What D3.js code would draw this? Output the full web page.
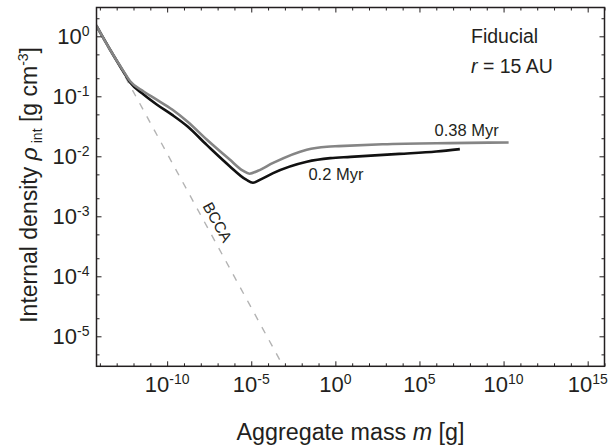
<!DOCTYPE html>
<html>
<head>
<meta charset="utf-8">
<script src="https://cdnjs.cloudflare.com/ajax/libs/d3/7.8.5/d3.min.js"></script>
<style>
  body { margin: 0; background: #fff; }
  text { font-family: "Liberation Sans", Arial, sans-serif; fill: #231f20; }
</style>
</head>
<body>
<div id="chart"></div>
<script>
// Values, stored as log10 exponents
var grayLogMass = [-14.2, -13.4, -12.6, -12.2, -11.4, -10.6, -9.7, -8.8, -7.65, -6.3, -5.5, -5.1, -4.6, -3.7, -1.7, -0.5, 0.2, 2.8, 6.8, 10.3];
var grayLogRho  = [0.17, -0.22, -0.58, -0.75, -0.92, -1.06, -1.22, -1.42, -1.72, -2.05, -2.24, -2.29, -2.24, -2.11, -1.89, -1.84, -1.83, -1.80, -1.78, -1.77];

var blackLogMass = [-14.2, -13.4, -12.6, -12.2, -11.4, -10.6, -9.7, -8.8, -7.65, -6.3, -5.3, -4.9, -4.4, -3.7, -1.7, -0.3, 0.9, 3.8, 6.0, 7.4];
var blackLogRho  = [0.17, -0.22, -0.59, -0.77, -0.97, -1.14, -1.31, -1.50, -1.81, -2.16, -2.39, -2.44, -2.38, -2.28, -2.09, -2.03, -2.01, -1.96, -1.92, -1.88];

var bccaLogMass = [-14.2, -2.9];
var bccaLogRho  = [0.2, -5.6];

var xMajorExp = [-10, -5, 0, 5, 10, 15];
var yMajorExp = [0, -1, -2, -3, -4, -5];

// Configuring SVG
var svgWidth = 614;
var svgHeight = 446;

var margin = { top: 7.5, right: 9.5, bottom: 79.7, left: 96.5 };
var width = svgWidth - margin.left - margin.right;
var height = svgHeight - margin.top - margin.bottom;

var svg = d3.select("#chart")
    .append("svg")
    .attr("width", svgWidth)
    .attr("height", svgHeight);

var chartGroup = svg.append("g")
    .attr("transform", `translate(${margin.left}, ${margin.top})`);

// Scales
var xScale = d3.scaleLog()
    .domain([Math.pow(10, -14.2), Math.pow(10, 16)])
    .range([0, width]);

var yScale = d3.scaleLog()
    .domain([Math.pow(10, -5.5), Math.pow(10, 0.48)])
    .range([height, 0]);

var toPoints = (lm, lr) => lm.map((v, i) => [Math.pow(10, v), Math.pow(10, lr[i])]);

// tick values
var xMajor = xMajorExp.map(e => Math.pow(10, e));
var xMinor = d3.range(-14, 17).filter(e => e % 5 !== 0).map(e => Math.pow(10, e));
var yMajor = yMajorExp.map(e => Math.pow(10, e));
var yMinor = [];
d3.range(-6, 1).forEach(e => {
    [2, 5].forEach(k => {
        var v = k * Math.pow(10, e);
        if (v > yScale.domain()[0] && v < yScale.domain()[1]) yMinor.push(v);
    });
});

function drawAxis(axisFn, scale, values, size, transform) {
    var g = chartGroup.append("g")
        .attr("transform", transform)
        .call(axisFn(scale).tickValues(values).tickSize(size).tickFormat(""));
    g.select(".domain").remove();
    g.selectAll(".tick line").attr("stroke", "#231f20").attr("stroke-width", 1);
}

// Clip
svg.append("defs").append("clipPath").attr("id", "clip")
    .append("rect").attr("width", width).attr("height", height);

var plot = chartGroup.append("g").attr("clip-path", "url(#clip)");

var line = d3.line()
    .x(d => xScale(d[0]))
    .y(d => yScale(d[1]));

plot.append("path")
    .datum(toPoints(bccaLogMass, bccaLogRho))
    .attr("d", line)
    .attr("fill", "none")
    .attr("stroke", "#b3b3b3")
    .attr("stroke-width", 1.4)
    .attr("stroke-dasharray", "7,8");

var smooth = d3.line()
    .x(d => xScale(d[0]))
    .y(d => yScale(d[1]))
    .curve(d3.curveMonotoneX);

plot.append("path")
    .datum(toPoints(blackLogMass, blackLogRho))
    .attr("d", smooth)
    .attr("fill", "none")
    .attr("stroke", "#111")
    .attr("stroke-width", 2.6);

plot.append("path")
    .datum(toPoints(grayLogMass, grayLogRho))
    .attr("d", smooth)
    .attr("fill", "none")
    .attr("stroke", "#858585")
    .attr("stroke-width", 2.6);

// Ticks on all four sides, pointing inward
drawAxis(d3.axisBottom, xScale, xMajor, -5, `translate(0, ${height})`);
drawAxis(d3.axisBottom, xScale, xMinor, -3, `translate(0, ${height})`);
drawAxis(d3.axisTop, xScale, xMajor, -5, "translate(0, 0)");
drawAxis(d3.axisTop, xScale, xMinor, -3, "translate(0, 0)");
drawAxis(d3.axisLeft, yScale, yMajor, -5, "translate(0, 0)");
drawAxis(d3.axisLeft, yScale, yMinor, -3, "translate(0, 0)");
drawAxis(d3.axisRight, yScale, yMajor, -5, `translate(${width}, 0)`);
drawAxis(d3.axisRight, yScale, yMinor, -3, `translate(${width}, 0)`);

// Frame
chartGroup.append("rect")
    .attr("width", width)
    .attr("height", height)
    .attr("fill", "none")
    .attr("stroke", "#231f20")
    .attr("stroke-width", 1.5);

// Tick labels
var xLab = chartGroup.selectAll(".xlab")
    .data(xMajorExp)
    .enter()
    .append("text")
    .attr("class", "xlab")
    .attr("x", d => xScale(Math.pow(10, d)))
    .attr("y", height + 26)
    .attr("text-anchor", "middle")
    .attr("font-size", "22px");
xLab.append("tspan").text("10");
xLab.append("tspan").attr("dy", -8.5).attr("font-size", "14px").text(d => d);

var yLab = chartGroup.selectAll(".ylab")
    .data(yMajorExp)
    .enter()
    .append("text")
    .attr("class", "ylab")
    .attr("x", -7)
    .attr("y", d => yScale(Math.pow(10, d)) + 8)
    .attr("text-anchor", "end")
    .attr("font-size", "22px");
yLab.append("tspan").text("10");
yLab.append("tspan").attr("dy", -8.5).attr("font-size", "14px").text(d => d);

// Axis titles
var xTitle = svg.append("text")
    .attr("x", margin.left + width / 2)
    .attr("y", 440)
    .attr("text-anchor", "middle")
    .attr("font-size", "23.3px");
xTitle.append("tspan").text("Aggregate mass ");
xTitle.append("tspan").attr("font-style", "italic").text("m");
xTitle.append("tspan").text(" [g]");

var yTitle = svg.append("text")
    .attr("transform", `translate(37, ${margin.top + height / 2 - 2}) rotate(-90)`)
    .attr("text-anchor", "middle")
    .attr("font-size", "23px");
yTitle.append("tspan").text("Internal density ");
yTitle.append("tspan").attr("font-style", "italic").text("\u03C1");
yTitle.append("tspan").attr("dy", 5).attr("dx", 4).attr("font-size", "14px").text("int");
yTitle.append("tspan").attr("dy", -5).text(" [g cm");
yTitle.append("tspan").attr("dy", -9).attr("font-size", "14px").text("-3");
yTitle.append("tspan").attr("dy", 9).text("]");

// Annotations
chartGroup.append("text")
    .attr("x", 471 - margin.left)
    .attr("y", 43 - margin.top)
    .attr("font-size", "19.5px")
    .text("Fiducial");

var rLab = chartGroup.append("text")
    .attr("x", 471 - margin.left)
    .attr("y", 73 - margin.top)
    .attr("font-size", "19.5px");
rLab.append("tspan").attr("font-style", "italic").text("r");
rLab.append("tspan").text(" = 15 AU");

chartGroup.append("text")
    .attr("x", xScale(Math.pow(10, 5.9)))
    .attr("y", yScale(Math.pow(10, -1.66)))
    .attr("font-size", "16.5px")
    .text("0.38 Myr");

chartGroup.append("text")
    .attr("x", xScale(Math.pow(10, -1.6)))
    .attr("y", yScale(Math.pow(10, -2.4)))
    .attr("font-size", "16.5px")
    .text("0.2 Myr");

// BCCA label along the dashed line
var bx = xScale(Math.pow(10, -7.6));
var by = yScale(Math.pow(10, -3.19));
chartGroup.append("text")
    .attr("transform", `translate(${bx + 5.2}, ${by - 2.9}) rotate(61)`)
    .attr("text-anchor", "middle")
    .attr("font-size", "15.5px")
    .text("BCCA");
</script>
</body>
</html>
